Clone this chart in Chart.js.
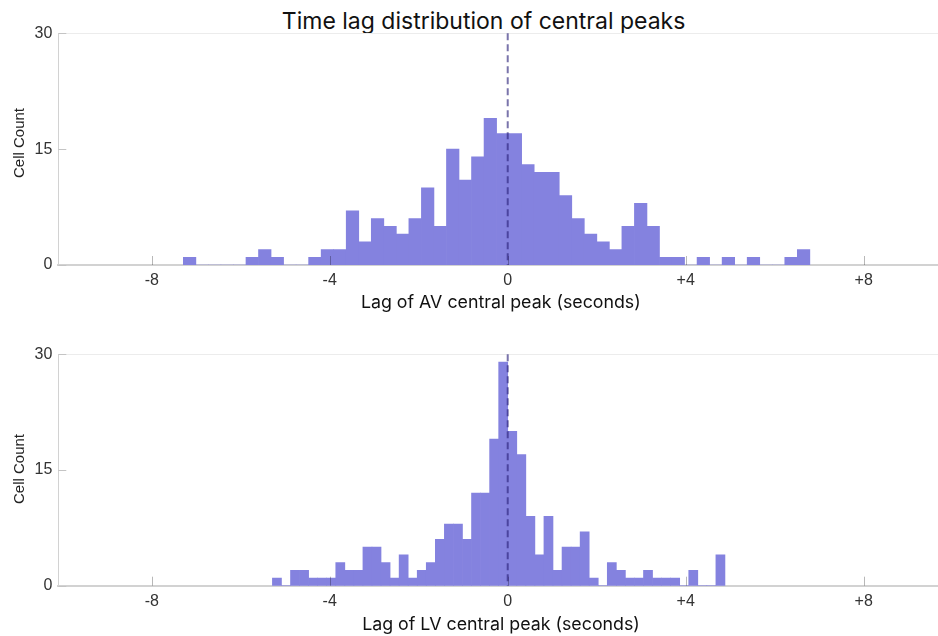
<!DOCTYPE html>
<html>
<head>
<meta charset="utf-8">
<script src="https://cdn.jsdelivr.net/npm/chart.js@4.4.1/dist/chart.umd.min.js"></script>
<style>
  html, body { margin: 0; padding: 0; background: #fff; overflow: hidden; }
  #page { position: relative; width: 938px; height: 636px; overflow: hidden; }
  canvas { position: absolute; left: 0; }
  .txt { position: absolute; white-space: nowrap; line-height: 1; transform: translate(-50%, -50%); color: #111; }
  .main { font-family: Inter, "Noto Sans", sans-serif; font-size: 23px; }
  .xlab { font-family: Inter, "Noto Sans", sans-serif; font-size: 17.8px; }
  .ylab { font-family: "Liberation Sans", Arial, sans-serif; font-size: 15px; transform: translate(-50%, -50%) rotate(-90deg); color: #222; }
</style>
</head>
<body>
<div id="page">
  <div class="txt main" style="left:483.6px; top:21px;">Time lag distribution of central peaks</div>
  <canvas id="avChart" width="938" height="318" style="top:0;"></canvas>
  <canvas id="lvChart" width="938" height="318" style="top:318px;"></canvas>
  <div class="txt ylab" style="left:18px; top:142.5px;">Cell Count</div>
  <div class="txt ylab" style="left:18px; top:469px;">Cell Count</div>
  <div class="txt xlab" style="left:500.8px; top:302px;">Lag of AV central peak (seconds)</div>
  <div class="txt xlab" style="left:501px; top:623.5px;">Lag of LV central peak (seconds)</div>
</div>
<script>
// Histogram counts per bin (cells), left to right
const avCounts = [1, 0, 0, 0, 0, 1, 2, 1, 0, 0,
                  1, 2, 2, 7, 3, 6, 5, 4, 6, 10,
                  5, 15, 11, 14, 19, 17, 17, 13, 12, 12,
                  9, 6, 4, 3, 2, 5, 8, 5, 1, 1,
                  0, 1, 0, 1, 0, 1, 0, 0, 1, 2];
const lvCounts = [1, 0, 2, 2, 1, 1, 1, 3, 2, 2,
                  5, 5, 3, 1, 4, 1, 2, 3, 6, 8,
                  8, 6, 12, 12, 19, 29, 20, 17, 9, 4,
                  9, 2, 5, 5, 7, 1, 0, 3, 2, 1,
                  1, 2, 1, 1, 1, 0, 2, 0, 0, 4];

// Bin layout in seconds: left edge of the first bin and bin width
const avFirstEdge = -7.29;
const avBinWidth = 0.2816;
const lvFirstEdge = -5.288;
const lvBinWidth = 0.2034;

// Axes
const xRange = [-10.1, 9.67];
const xTickValues = [-8, -4, 0, 4, 8];
const xTickLabels = ['-8', '-4', '0', '+4', '+8'];
const yRange = [0, 30];
const yTickValues = [0, 15, 30];
const zeroLag = 0;

const barColor = '#8482df';
const tickFont = { family: '"Liberation Sans", Arial, sans-serif', size: 16 };

function binPoints(firstEdge, width, counts) {
  return counts.map((c, i) => ({ x: firstEdge + (i + 0.5) * width, y: c }));
}

// Plot frame: faint top rule, inward tick marks and the dashed zero-lag line
const framePlugin = {
  id: 'frame',
  afterDatasetsDraw(chart) {
    const { ctx, chartArea: a, scales: { x, y } } = chart;
    ctx.save();
    ctx.lineWidth = 1;
    ctx.strokeStyle = '#ececec';
    ctx.beginPath();
    ctx.moveTo(a.left, Math.round(a.top) + 0.5);
    ctx.lineTo(a.right, Math.round(a.top) + 0.5);
    ctx.stroke();

    ctx.strokeStyle = '#c4c4c4';
    y.ticks.forEach(t => {
      const py = Math.round(y.getPixelForValue(t.value)) + 0.5;
      ctx.beginPath();
      ctx.moveTo(a.left, py);
      ctx.lineTo(a.left + 8, py);
      ctx.stroke();
    });

    ctx.strokeStyle = 'rgba(0,0,0,0.28)';
    x.ticks.forEach(t => {
      const px = Math.round(x.getPixelForValue(t.value)) + 0.5;
      ctx.beginPath();
      ctx.moveTo(px, a.bottom);
      ctx.lineTo(px, a.bottom - 9);
      ctx.stroke();
    });

    const zx = x.getPixelForValue(zeroLag);
    ctx.strokeStyle = 'rgba(40,30,120,0.62)';
    ctx.lineWidth = 2;
    ctx.setLineDash([7, 4]);
    ctx.beginPath();
    ctx.moveTo(zx, a.top);
    ctx.lineTo(zx, a.bottom);
    ctx.stroke();
    ctx.restore();
  }
};

function makeHistogram(canvasId, counts, firstEdge, width, plotTop, plotBottom) {
  const canvas = document.getElementById(canvasId);
  const H = canvas.height;
  return new Chart(canvas, {
    type: 'bar',
    data: {
      datasets: [{
        data: binPoints(firstEdge, width, counts),
        backgroundColor: barColor,
        borderWidth: 0,
        barPercentage: 1,
        categoryPercentage: 1
      }]
    },
    options: {
      responsive: false,
      animation: false,
      events: [],
      layout: { padding: { top: plotTop, right: 0, bottom: 0, left: 0 } },
      plugins: { legend: { display: false }, tooltip: { enabled: false }, title: { display: false } },
      scales: {
        x: {
          type: 'linear',
          min: xRange[0],
          max: xRange[1],
          offset: false,
          grid: { display: false, drawTicks: false, offset: false },
          border: { display: true, color: '#d2d2d2', width: 2 },
          afterBuildTicks: s => { s.ticks = xTickValues.map(v => ({ value: v })); },
          afterFit: s => { s.height = H - plotBottom; },
          ticks: {
            padding: 6,
            color: '#333',
            font: tickFont,
            maxRotation: 0,
            autoSkip: false,
            callback: (v, i) => xTickLabels[i]
          }
        },
        y: {
          type: 'linear',
          min: yRange[0],
          max: yRange[1],
          grid: { display: false, drawTicks: false },
          border: { display: true, color: '#d2d2d2', width: 1 },
          afterBuildTicks: s => { s.ticks = yTickValues.map(v => ({ value: v })); },
          afterFit: s => { s.width = 58.3; },
          ticks: { padding: 6, color: '#333', font: tickFont }
        }
      }
    },
    plugins: [framePlugin]
  });
}

makeHistogram('avChart', avCounts, avFirstEdge, avBinWidth, 33.3, 265);
makeHistogram('lvChart', lvCounts, lvFirstEdge, lvBinWidth, 36.3, 267.7);
</script>
</body>
</html>
